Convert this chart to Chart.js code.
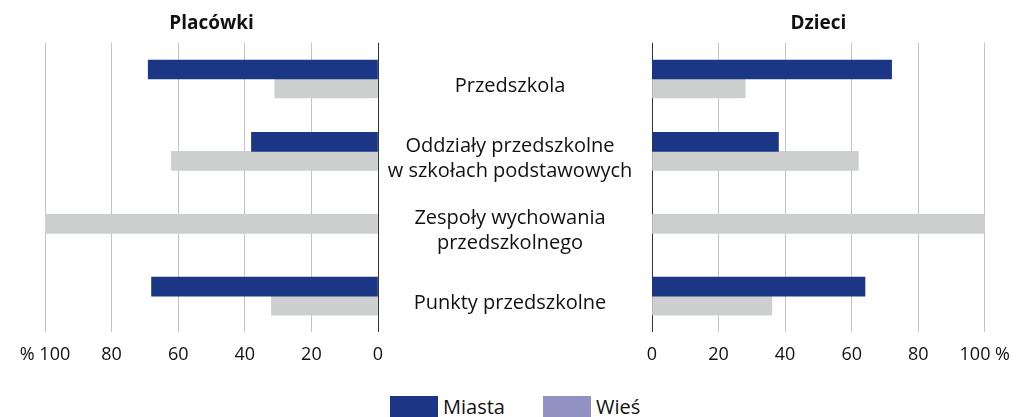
<!DOCTYPE html>
<html><head><meta charset="utf-8">
<script src="https://cdn.jsdelivr.net/npm/chart.js@4"></script>
<style>
html,body{margin:0;padding:0;background:#fff;width:1019px;height:417px;overflow:hidden;font-family:"Open Sans",sans-serif}
#wrap{position:relative;width:1019px;height:417px;overflow:hidden}
canvas{position:absolute;top:0}
#c1{left:0}
#c2{left:380px}
.item{position:absolute;top:396px;height:21px;display:flex;align-items:center;font:20px "Open Sans",sans-serif;color:#111;white-space:nowrap}
.sw{display:inline-block;width:48px;height:21px;margin-right:5px}
</style></head>
<body>
<div id="wrap">
<canvas id="c1" width="400" height="393"></canvas>
<canvas id="c2" width="642" height="393"></canvas>
<div class="item" style="left:390px"><span class="sw" style="background:#1b3685"></span><span id="lg0"></span></div>
<div class="item" style="left:543px"><span class="sw" style="background:#9192c2"></span><span id="lg1"></span></div>
</div>
<script>
const categories = [['Przedszkola'], ['Oddziały przedszkolne','w szkołach podstawowych'], ['Zespoły wychowania','przedszkolnego'], ['Punkty przedszkolne']];
const seriesNames = ['Miasta', 'Wieś'];
const panelTitles = ['Placówki', 'Dzieci'];
const placowkiMiasta = [69, 38, null, 68];
const placowkiWies = [31, 62, 100, 32];
const dzieciMiasta = [72, 38, null, 64];
const dzieciWies = [28, 62, 100, 36];
const tickValues = [0, 20, 40, 60, 80, 100];
const leftTickLabels = ['0', '20', '40', '60', '80', '% 100'];
const rightTickLabels = ['0', '20', '40', '60', '80', '100 %'];

document.getElementById('lg0').textContent = seriesNames[0];
document.getElementById('lg1').textContent = seriesNames[1];

const colMiasta = '#1b3685', colWies = '#cdcfce';
const FONT = '"Open Sans", sans-serif';

function datasets(a, b) {
  return [
    {label: seriesNames[0], data: a, backgroundColor: colMiasta, borderWidth: 0},
    {label: seriesNames[1], data: b, backgroundColor: colWies, borderWidth: 0}
  ];
}
function xScale(reverse, labels) {
  return {
    type: 'linear', min: 0, max: 100, reverse: reverse,
    afterBuildTicks: s => { s.ticks = tickValues.map(v => ({value: v})); },
    ticks: {
      padding: 12, color: '#111', font: {family: FONT, size: 18},
      callback: v => labels[tickValues.indexOf(v)]
    },
    grid: {
      drawTicks: false,
      color: c => (c.tick && c.tick.value === 0) ? '#333' : '#c4c4c4',
      lineWidth: 1
    },
    border: {display: false}
  };
}
const baseOptions = {
  responsive: false, animation: false, indexAxis: 'y',
  skipNull: true, barThickness: 19, grouped: true
};

const mctx = document.createElement('canvas').getContext('2d');
mctx.font = '20px ' + FONT;
let widest = 0;
categories.forEach(c => c.forEach(l => { widest = Math.max(widest, mctx.measureText(l).width); }));
const labPad = Math.max(0, 142 - widest / 2);

function titleOpt(t) {
  return {display: true, text: t, fullSize: false, color: '#111',
    font: {family: FONT, size: 19, weight: 'bold'}, padding: {top: 0, bottom: 8}};
}

new Chart(document.getElementById('c1'), {
  type: 'bar',
  data: {labels: categories, datasets: datasets(placowkiMiasta, placowkiWies)},
  options: Object.assign({}, baseOptions, {
    layout: {padding: {top: 12, bottom: 15, left: 45, right: 22}},
    plugins: {legend: {display: false}, tooltip: {enabled: false}, title: titleOpt(panelTitles[0])},
    scales: {
      x: xScale(true, leftTickLabels),
      y: {type: 'category', display: false, offset: true}
    }
  })
});

new Chart(document.getElementById('c2'), {
  type: 'bar',
  data: {labels: categories, datasets: datasets(dzieciMiasta, dzieciWies)},
  options: Object.assign({}, baseOptions, {
    layout: {padding: {top: 12, bottom: 15, left: 0, right: 32}},
    plugins: {legend: {display: false}, tooltip: {enabled: false}, title: titleOpt(panelTitles[1])},
    scales: {
      x: xScale(false, rightTickLabels),
      y: {
        type: 'category', offset: true,
        afterFit: s => { s.width = 272; },
        ticks: {crossAlign: 'center', padding: labPad, labelOffset: 7, color: '#111',
          font: {family: FONT, size: 20, lineHeight: 1.25}},
        grid: {display: false, drawTicks: false},
        border: {display: false}
      }
    }
  })
});
</script>
</body></html>
